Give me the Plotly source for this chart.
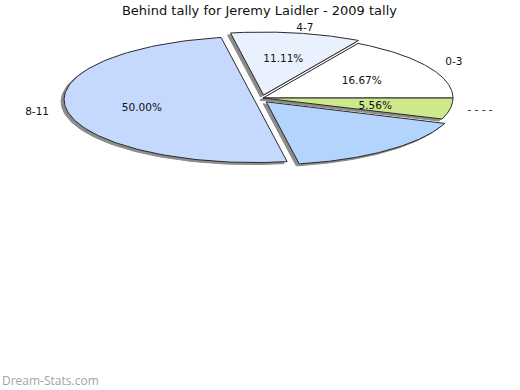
import numpy as np
import plotly.graph_objects as go

# ---- data ----
categories = ["0-3", "4-7", "8-11", "", "- - - -"]
values = [3, 2, 9, 3, 1]
show_pct = [True, True, True, False, True]
title_text = "Behind tally for Jeremy Laidler - 2009 tally"
watermark = "Dream-Stats.com"

# ---- style ----
colors = ["#ffffff", "#eaf1fe", "#c5d8fe", "#b3d4fd", "#cde98b"]
explode_px = [0, 3, 9, 5, 0]
CX, CY, RX, RY = 263, 98, 190, 63
SHADOW_DX, SHADOW_DY = -3, 2
FONT = "DejaVu Sans"

total = float(sum(values))
fig = go.Figure()

slices = []
start = 0.0
for i, v in enumerate(values):
    span = 360.0 * v / total
    t0, t1 = start, start + span
    mid = np.radians((t0 + t1) / 2)
    ox = explode_px[i] * np.cos(mid)
    oy = -explode_px[i] * np.sin(mid)
    t = np.radians(np.linspace(t0, t1, 120))
    xs = np.concatenate([[CX + ox], CX + ox + RX * np.cos(t), [CX + ox]])
    ys = np.concatenate([[CY + oy], CY + oy - RY * np.sin(t), [CY + oy]])
    slices.append((xs, ys, ox, oy, mid))
    start = t1

# shadows
for xs, ys, ox, oy, mid in slices:
    fig.add_trace(go.Scatter(x=xs + SHADOW_DX, y=ys + SHADOW_DY, mode="lines",
                             fill="toself", fillcolor="#8c8c8c",
                             line=dict(color="#8c8c8c", width=1),
                             hoverinfo="skip", showlegend=False))
# slices
for i, (xs, ys, ox, oy, mid) in enumerate(slices):
    fig.add_trace(go.Scatter(x=xs, y=ys, mode="lines", fill="toself",
                             fillcolor=colors[i],
                             line=dict(color="#2a2a2a", width=1),
                             hoverinfo="skip", showlegend=False))

# labels
lx, ly, lt, px, py, pt = [], [], [], [], [], []
for i, (xs, ys, ox, oy, mid) in enumerate(slices):
    lx.append(CX + ox + RX * 1.16 * np.cos(mid) + (3 if np.sin(mid) > 0.9 else 0))
    ly.append(CY + oy - RY * 1.13 * np.sin(mid) + (3 if np.sin(mid) > 0.9 else 0))
    lt.append(categories[i])
    if show_pct[i]:
        px.append(CX + ox + RX * 0.6 * np.cos(mid))
        py.append(CY + oy - RY * 0.6 * np.sin(mid) + 2)
        pt.append(f"{100 * values[i] / total:.2f}%")

fig.add_trace(go.Scatter(x=lx, y=ly, text=lt, mode="text",
                         textfont=dict(family=FONT, size=10.5, color="#111111"),
                         hoverinfo="skip", showlegend=False))
fig.add_trace(go.Scatter(x=px, y=py, text=pt, mode="text",
                         textfont=dict(family=FONT, size=10.5, color="#111111"),
                         hoverinfo="skip", showlegend=False))

fig.update_layout(
    width=520, height=390,
    margin=dict(l=0, r=0, t=0, b=0),
    paper_bgcolor="white", plot_bgcolor="white",
    xaxis=dict(range=[0, 520], visible=False, fixedrange=True),
    yaxis=dict(range=[390, 0], visible=False, fixedrange=True),
    title=dict(text=title_text, x=0.499, xanchor="center",
               y=1 - 10 / 390, yanchor="middle", yref="container",
               font=dict(family=FONT, size=13, color="#111111")),
    annotations=[dict(text=watermark, xref="paper", yref="paper",
                      x=0, y=(390 - 380.5) / 390, xanchor="left", yanchor="middle",
                      showarrow=False,
                      font=dict(family="Open Sans", size=12, color="#a3a3a3"))],
)

fig.write_html("out.html", config={"displayModeBar": False},
               post_script="document.body.style.margin='0';document.body.style.overflow='hidden';")
